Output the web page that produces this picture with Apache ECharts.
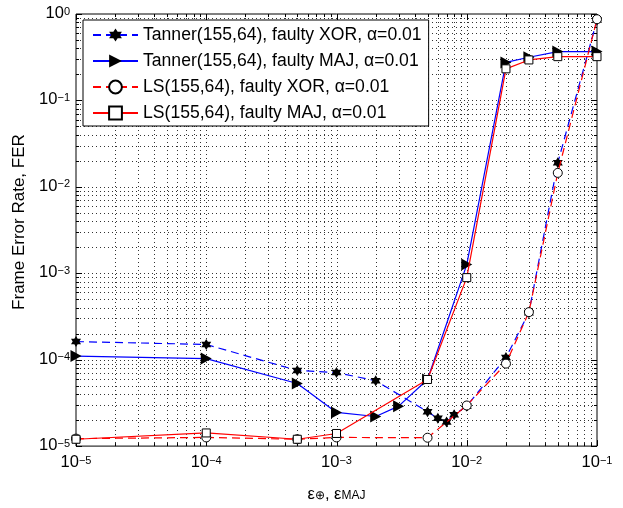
<!DOCTYPE html>
<html>
<head>
<meta charset="utf-8">
<script src="https://cdn.jsdelivr.net/npm/echarts@6/dist/echarts.min.js"></script>
<style>
  html, body { margin: 0; padding: 0; background: #fff; }
  #main { width: 623px; height: 508px; }
</style>
</head>
<body>
<div id="main"></div>
<script>
// decade ticks of both axes
var xDecades = [1e-5, 1e-4, 1e-3, 1e-2, 1e-1];
var yDecades = [1e-5, 1e-4, 1e-3, 1e-2, 1e-1, 1];

// Tanner(155,64), faulty XOR
var tannerXorX = [1e-5, 1e-4, 5e-4, 1e-3, 2e-3, 5e-3, 6e-3, 7e-3, 8e-3, 1e-2, 2e-2, 3e-2, 5e-2, 1e-1];
var tannerXorY = [1.62e-4, 1.5e-4, 7.5e-5, 7.1e-5, 5.7e-5, 2.5e-5, 2.1e-5, 1.9e-5, 2.3e-5, 2.9e-5, 1.06e-4, 3.5e-4, 1.9e-2, 0.85];
// Tanner(155,64), faulty MAJ
var tannerMajX = [1e-5, 1e-4, 5e-4, 1e-3, 2e-3, 3e-3, 5e-3, 1e-2, 2e-2, 3e-2, 5e-2, 1e-1];
var tannerMajY = [1.1e-4, 1.03e-4, 5.3e-5, 2.45e-5, 2.2e-5, 2.9e-5, 5.9e-5, 1.26e-3, 0.275, 0.316, 0.367, 0.367];
// LS(155,64), faulty XOR
var lsXorX = [1e-5, 1e-4, 5e-4, 1e-3, 5e-3, 1e-2, 2e-2, 3e-2, 5e-2, 1e-1];
var lsXorY = [1.22e-5, 1.26e-5, 1.2e-5, 1.26e-5, 1.25e-5, 2.95e-5, 9e-5, 3.55e-4, 1.45e-2, 0.87];
// LS(155,64), faulty MAJ
var lsMajX = [1e-5, 1e-4, 5e-4, 1e-3, 5e-3, 1e-2, 2e-2, 3e-2, 5e-2, 1e-1];
var lsMajY = [1.2e-5, 1.42e-5, 1.2e-5, 1.4e-5, 5.9e-5, 8.9e-4, 0.232, 0.294, 0.321, 0.321];

var names = [
  'Tanner(155,64), faulty XOR, α=0.01',
  'Tanner(155,64), faulty MAJ, α=0.01',
  'LS(155,64), faulty XOR, α=0.01',
  'LS(155,64), faulty MAJ, α=0.01'
];

var FONT = 'Liberation Sans';

function pairs(xs, ys) {
  return xs.map(function (x, i) { return [x, ys[i]]; });
}

// 1..9 times every decade, last decade alone
function gridValues(decades) {
  var out = [];
  decades.forEach(function (d, i) {
    if (i === decades.length - 1) { out.push([d, 1]); return; }
    for (var m = 1; m <= 9; m++) out.push([d * m, m === 1 ? 1 : 0]);
  });
  return out;
}

function hexagram() {
  var pts = [];
  for (var i = 0; i < 12; i++) {
    var r = i % 2 === 0 ? 10 : 5.77;
    var a = Math.PI / 2 + i * Math.PI / 6;
    pts.push((r * Math.cos(a)).toFixed(2) + ',' + (-r * Math.sin(a)).toFixed(2));
  }
  return 'path://M' + pts.join('L') + 'Z';
}

function powLabel(v) {
  var e = Math.round(Math.log10(v));
  var s = e < 0 ? '\u2212' + (-e) : '' + e;
  return '{b|10}{s|' + s + '}';
}

var powRich = {
  b: { fontSize: 16.5, fontFamily: FONT, color: '#000', lineHeight: 16, verticalAlign: 'bottom' },
  s: { fontSize: 11, fontFamily: FONT, color: '#000', lineHeight: 11, verticalAlign: 'top', padding: [0, 0, 11, 0] }
};

var dotted = { stroke: '#000', lineWidth: 1, lineDash: [1, 3], opacity: 0.8 };
var tickStyle = { stroke: '#000', lineWidth: 1 };

function renderVertical(params, api) {
  var cs = params.coordSys;
  var x = Math.round(api.coord([api.value(0), 1e-3])[0]) + 0.5;
  var len = api.value(1) ? 6 : 3;
  var top = cs.y, bot = cs.y + cs.height;
  var ch = [];
  if (x > cs.x + 2 && x < cs.x + cs.width - 2) {
    ch.push({ type: 'line', shape: { x1: x, y1: top, x2: x, y2: bot }, style: dotted, silent: true });
  }
  ch.push({ type: 'line', shape: { x1: x, y1: bot, x2: x, y2: bot - len }, style: tickStyle, silent: true });
  ch.push({ type: 'line', shape: { x1: x, y1: top, x2: x, y2: top + len }, style: tickStyle, silent: true });
  return { type: 'group', children: ch };
}

function renderHorizontal(params, api) {
  var cs = params.coordSys;
  var y = Math.round(api.coord([1e-3, api.value(0)])[1]) + 0.5;
  var len = api.value(1) ? 6 : 3;
  var left = cs.x, right = cs.x + cs.width;
  var ch = [];
  if (y > cs.y + 2 && y < cs.y + cs.height - 2) {
    ch.push({ type: 'line', shape: { x1: left, y1: y, x2: right, y2: y }, style: dotted, silent: true });
  }
  ch.push({ type: 'line', shape: { x1: left, y1: y, x2: left + len, y2: y }, style: tickStyle, silent: true });
  ch.push({ type: 'line', shape: { x1: right, y1: y, x2: right - len, y2: y }, style: tickStyle, silent: true });
  return { type: 'group', children: ch };
}

var chart = echarts.init(document.getElementById('main'), null, { renderer: 'canvas' });

chart.setOption({
  animation: false,
  backgroundColor: '#fff',
  textStyle: { fontFamily: FONT },
  grid: {
    left: 76, right: 26, top: 14, bottom: 61,
    show: true, borderColor: '#000', borderWidth: 1, backgroundColor: 'transparent'
  },
  legend: {
    data: names,
    orient: 'vertical',
    left: 83, top: 20,
    itemWidth: 45, itemHeight: 16, itemGap: 8,
    padding: [6, 7, 4, 9],
    backgroundColor: '#fff',
    borderColor: '#000', borderWidth: 1,
    textStyle: { fontSize: 17.6, fontFamily: FONT, color: '#000', lineHeight: 18 },
    z: 10
  },
  xAxis: {
    type: 'log', logBase: 10, min: 1e-5, max: 1e-1,
    axisLine: { show: false }, axisTick: { show: false }, splitLine: { show: false },
    axisLabel: { formatter: powLabel, rich: powRich, margin: 9, fontSize: 16, fontFamily: FONT, color: '#000' },
    name: '{n|ε}{sub|⊕}{n|, ε}{sub|MAJ}',
    nameLocation: 'middle', nameGap: 38,
    nameTextStyle: {
      fontSize: 16, fontFamily: FONT, color: '#000',
      rich: {
        n: { fontSize: 16.5, fontFamily: FONT, color: '#000', lineHeight: 16, verticalAlign: 'top' },
        sub: { fontSize: 12, fontFamily: FONT, color: '#000', lineHeight: 12, verticalAlign: 'bottom', padding: [8, 0, 0, 0] }
      }
    }
  },
  yAxis: {
    type: 'log', logBase: 10, min: 1e-5, max: 1,
    axisLine: { show: false }, axisTick: { show: false }, splitLine: { show: false },
    axisLabel: { formatter: powLabel, rich: powRich, margin: 6, fontSize: 16, fontFamily: FONT, color: '#000' },
    name: 'Frame Error Rate, FER',
    nameLocation: 'middle', nameGap: 37,
    nameTextStyle: { fontSize: 17, fontFamily: FONT, color: '#000', padding: [0, 0, 0, 16] }
  },
  series: [
    {
      type: 'custom', name: 'xgrid', silent: true, z: 1,
      data: gridValues(xDecades), renderItem: renderVertical
    },
    {
      type: 'custom', name: 'ygrid', silent: true, z: 1,
      data: gridValues(yDecades), renderItem: renderHorizontal
    },
    {
      name: names[0], type: 'line', data: pairs(tannerXorX, tannerXorY),
      clip: false, z: 3,
      lineStyle: { color: '#0000ff', width: 1.2, type: [8, 5] },
      symbol: hexagram(), symbolSize: [10, 11],
      itemStyle: { color: '#000', borderWidth: 0 }
    },
    {
      name: names[1], type: 'line', data: pairs(tannerMajX, tannerMajY),
      clip: false, z: 3,
      lineStyle: { color: '#0000ff', width: 1.2 },
      symbol: 'path://M0,0L10,6L0,12Z', symbolSize: [11, 12],
      itemStyle: { color: '#000', borderWidth: 0 }
    },
    {
      name: names[2], type: 'line', data: pairs(lsXorX, lsXorY),
      clip: false, z: 4,
      lineStyle: { color: '#ff0000', width: 1.2, type: [8, 5] },
      symbol: 'circle', symbolSize: 9,
      itemStyle: { color: '#fff', borderColor: '#000', borderWidth: 1 }
    },
    {
      name: names[3], type: 'line', data: pairs(lsMajX, lsMajY),
      clip: false, z: 4,
      lineStyle: { color: '#ff0000', width: 1.2 },
      symbol: 'rect', symbolSize: 8,
      itemStyle: { color: '#fff', borderColor: '#000', borderWidth: 1 }
    }
  ]
});
</script>
</body>
</html>
